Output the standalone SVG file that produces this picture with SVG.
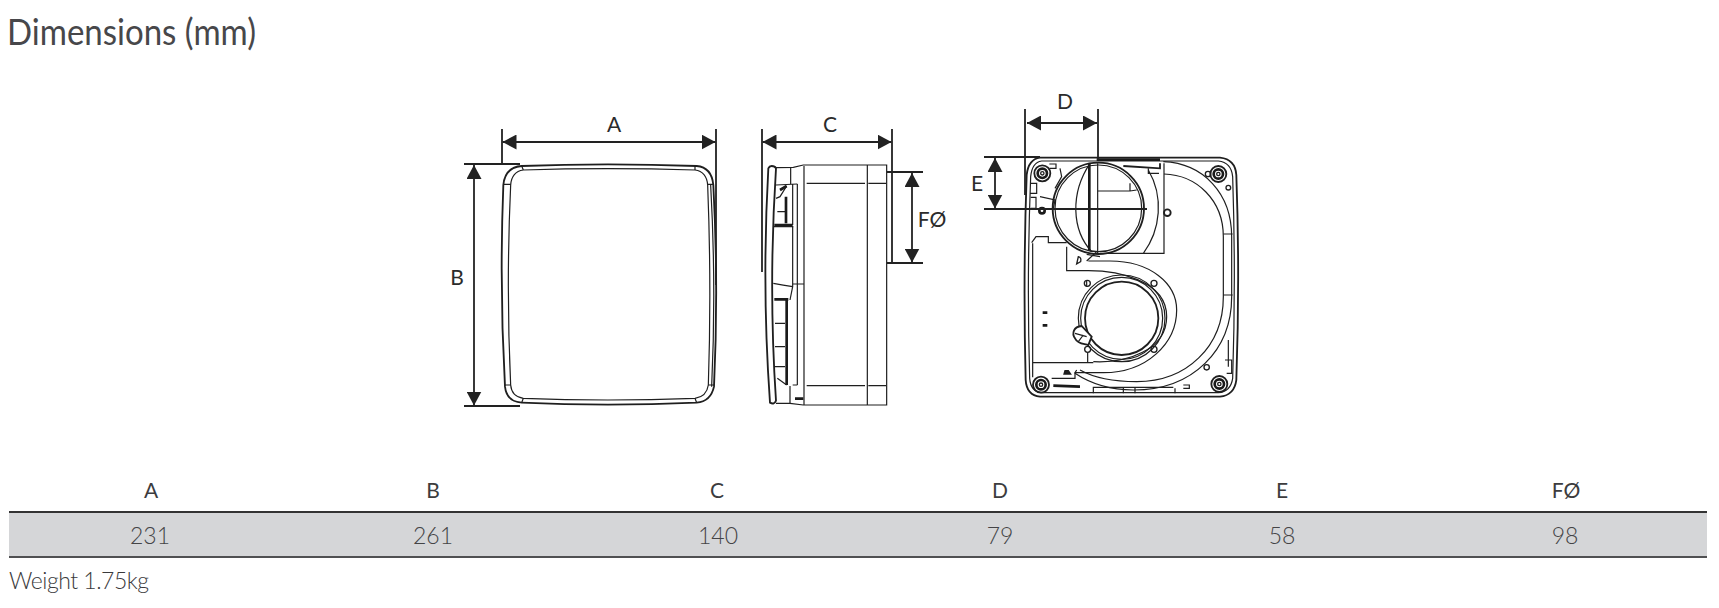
<svg xmlns="http://www.w3.org/2000/svg" width="1719" height="608" viewBox="0 0 1719 608">
<style>
text{font-family:"Lato","Open Sans","Liberation Sans",sans-serif;fill:#3a3a3c}
.lbl{font-size:21px;text-anchor:middle;font-weight:400;fill:#2b2b2b}
.hd{font-size:21px;text-anchor:middle;font-weight:400;fill:#3c3c3e}
.val{font-size:23px;text-anchor:middle;font-weight:300;fill:#444446}
.dim{stroke:#222;stroke-width:1.8;fill:none}
.dima{marker-start:url(#ah);marker-end:url(#ah)}
.ln{fill:none;stroke:#1f1f1f;stroke-width:3.6}
.th{fill:none;stroke:#1f1f1f;stroke-width:5.5}
.tk{fill:none;stroke:#1a1a1a;stroke-width:8}
.sc{fill:none;stroke:#1f1f1f;stroke-width:4}
</style>
<defs>
<marker id="ah" viewBox="0 0 14 15" refX="14" refY="7.5" markerWidth="14" markerHeight="15" markerUnits="userSpaceOnUse" orient="auto-start-reverse"><path d="M0,0L14,7.5L0,15Z" fill="#222"/></marker>
<g id="screw"><circle r="24" class="th"/><circle r="14" class="tk"/><circle r="5" class="sc"/></g>
<g id="hole"><circle r="9" class="sc" fill="#fff"/></g>
</defs>
<rect width="1719" height="608" fill="#fff"/>
<g id="title"><text x="7" y="45" font-size="37" font-weight="400" fill="#47474a" style="fill:#47474a" textLength="249" lengthAdjust="spacingAndGlyphs">Dimensions (mm)</text></g>

<g id="front-view" transform="translate(440,90) scale(.33333)">
<path class="th" d="M245,228Q500,218 770,228Q815,232 820,285Q836,590 822,890Q812,935 770,938Q500,950 245,938Q200,935 195,890Q178,590 190,285Q195,232 245,228Z"/>
<path class="ln" d="M250,240Q500,232 765,240Q800,245 803,285Q815,590 805,885Q800,920 765,925Q500,935 250,925Q215,920 212,885Q198,590 212,285Q215,245 250,240Z"/>
<path class="ln" d="M245,228L250,240M765,228V240M190,283H212M803,283H820M195,885H212M805,885H822M245,938L250,925M770,938L765,925"/>
<path class="ln" d="M812,285Q829,590 815,890"/>
</g>

<g id="side-view" transform="translate(440,90) scale(.33333)">
<path class="th" d="M995,228Q1005,228 1008,235Q985,590 1008,932Q1003,945 990,938Q965,590 985,235Q988,228 995,228Z"/>
<path class="ln" d="M1008,233L1060,232L1090,225H1340V945H1090L1050,940H1008"/>
<path class="ln" d="M1092,228V945M1282,225V945M1052,232V282M1050,888V940M1100,280H1275M1285,280H1338M1100,887H1275M1285,887H1338M1072,282V885M1058,282V405M1058,410V590L1050,630M1058,582H1092M1058,885H1072"/>
<path class="ln" d="M1008,285L1072,282M1000,410H1060M1000,580Q1030,585 1058,590M1012,365H1035M1005,700H1035M1005,770H1035M1005,830H1035M1012,865L1040,885M1008,325L1020,320L1040,288"/>
<path class="tk" d="M1038,320V400M1003,405H1058M1003,628H1045M1040,630V885M1020,300L1040,288M1065,926H1090"/>
</g>

<g id="back-view" transform="translate(960,80) scale(.33333)">
<path class="th" d="M240,233H780Q826,238 829,285Q840,590 829,900Q823,946 780,950H240Q200,946 197,900Q189,590 200,285Q205,238 240,233Z"/>
<path class="ln" d="M245,243H775Q814,247 818,290Q828,590 818,895Q812,935 775,938H245Q212,935 209,895Q200,590 212,290Q216,247 245,243Z"/>
<path class="tk" d="M410,239H600"/>
<path class="th" d="M490,258L600,265V250"/>
<path class="ln" d="M565,265V280H597M612,250V520H420M565,270C612,350 602,450 550,520"/>
<circle cx="415" cy="385" r="137" class="th"/>
<circle cx="415" cy="385" r="130" class="ln"/>
<path class="ln" d="M390,250C330,340 335,450 395,515M413,250V520M413,333H510V310M510,333L530,330"/>
<path class="tk" d="M388,250V510"/>
<path class="ln" d="M610,245C730,250 815,340 815,470V650C815,810 700,930 520,930C450,930 390,910 345,880"/>
<path class="ln" d="M612,282C710,285 790,360 790,470V650C790,800 680,905 530,905C470,905 405,895 360,870"/>
<path class="ln" d="M790,462H818M790,645H818"/>
<path class="ln" d="M320,500V572H385C470,572 620,600 620,710C620,810 500,850 400,845M385,543H450C570,543 650,610 650,690C650,790 560,878 430,878H345L350,870M380,523L420,530M380,543L410,515"/>
<path class="ln" d="M215,488L228,470H265V488H320M218,490V848H400M218,848V892M345,878V895H275M400,920V940M490,920V940M525,920V940M645,925V940M400,922H640"/>
<circle cx="485" cy="715" r="130" class="ln"/>
<circle cx="485" cy="715" r="123" class="ln"/>
<circle cx="485" cy="715" r="110" class="th"/>
<use href="#hole" x="382" y="610"/><use href="#hole" x="582" y="610"/><use href="#hole" x="383" y="808"/><use href="#hole" x="582" y="808"/>
<path class="ln" d="M380,620V600M383,818V848"/>
<path class="th" fill="#fff" style="fill:#fff" d="M365,738C340,740 335,760 345,775C355,795 375,790 385,795L395,770Z"/>
<path class="ln" d="M345,760L380,770M355,785L370,765"/>
<path class="sc" d="M355,530L350,552L362,545Q365,532 355,530Z"/>
<path class="sc" d="M315,872L325,872L332,882H312Z" style="fill:#222"/>
<path class="tk" d="M248,698H262M248,736H262M280,917L360,920"/>
<use href="#screw" x="247" y="280"/><use href="#screw" x="775" y="282"/><use href="#screw" x="243" y="914"/><use href="#screw" x="778" y="912"/>
<circle cx="246" cy="392" r="8" class="tk"/>
<circle cx="622" cy="398" r="10" class="th"/><circle cx="740" cy="862" r="8" class="sc"/><circle cx="744" cy="282" r="8" class="sc"/><circle cx="805" cy="323" r="7" class="sc"/>
<path class="ln" d="M268,252H288V265H268M300,265L305,290L285,325M210,310H230V340H210M212,352H228V385H212M240,350L285,360L280,385M670,915H688V925H670M805,780V860M795,840H815V880H800"/>
</g>

<g id="connectors">
<path class="dim" d="M502,129V164M716,129V285M464,164H520M464,406H520M762,129V272M892,129V263M887,172H923M887,263H923M1025,109V195M1098,109V160M984,157H1040M984,209H1147"/>
<path class="dim dima" d="M502.500,142H715.500"/>
<path class="dim dima" d="M474,165V405.500"/>
<path class="dim dima" d="M762.500,142H891.500"/>
<path class="dim dima" d="M912,173V262.500"/>
<path class="dim dima" d="M1027,123H1097"/>
<path class="dim dima" d="M995,158V208.500"/>
</g>

<g id="dim-labels">
<text class="lbl" x="614" y="132">A</text>
<text class="lbl" x="457" y="285">B</text>
<text class="lbl" x="830" y="132">C</text>
<text class="lbl" x="932" y="227">FØ</text>
<text class="lbl" x="1065" y="109">D</text>
<text class="lbl" x="977" y="191">E</text>
</g>

<g id="table">
<rect x="9" y="512" width="1698" height="45" fill="#d5d6d8"/>
<path d="M9,512H1707" stroke="#333" stroke-width="2" fill="none"/>
<path d="M9,557H1707" stroke="#505052" stroke-width="2" fill="none"/>
<text class="hd" x="151" y="498">A</text><text class="hd" x="433" y="498">B</text><text class="hd" x="717" y="498">C</text><text class="hd" x="1000" y="498">D</text><text class="hd" x="1282" y="498">E</text><text class="hd" x="1566" y="498">FØ</text>
<text class="val" x="150" y="544">231</text><text class="val" x="433" y="544">261</text><text class="val" x="718" y="544">140</text><text class="val" x="1000" y="544">79</text><text class="val" x="1282" y="544">58</text><text class="val" x="1565" y="544">98</text>
</g>
<g id="weight"><text x="9" y="589" font-size="23" font-weight="300" textLength="140">Weight 1.75kg</text></g>
</svg>
